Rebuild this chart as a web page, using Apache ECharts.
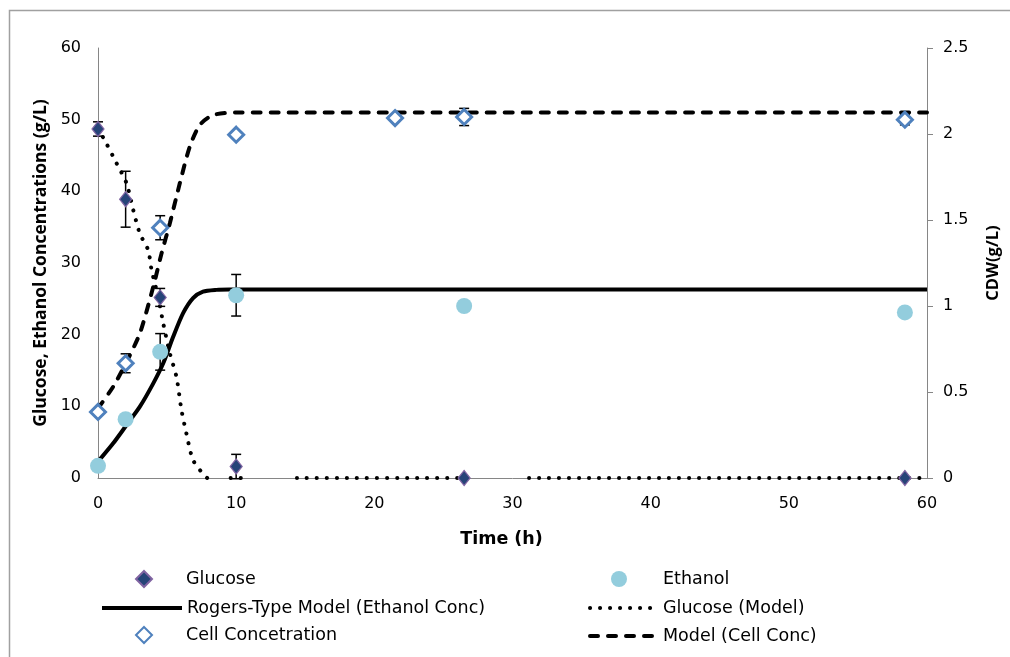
<!DOCTYPE html>
<html>
<head>
<meta charset="utf-8">
<script src="https://cdn.jsdelivr.net/npm/echarts@6/dist/echarts.min.js"></script>
<style>html,body{margin:0;padding:0;background:#fff}#c{width:1010px;height:657px}</style>
</head>
<body>
<div id="c"></div>
<script>
// ---- measured data ----
const timeGlu = [0, 2, 4.5, 10, 26.5, 58.4];
const glucose = [48.7, 38.9, 25.2, 1.6, 0, 0];
const glucoseErr = [1.0, 3.9, 1.25, 1.7, 0, 0];
const timeEth = [0, 2, 4.5, 10, 26.5, 58.4];
const ethanol = [1.7, 8.2, 17.6, 25.5, 24.0, 23.1];
const ethanolErr = [0, 0, 2.55, 2.9, 0, 0];
const timeCell = [0, 2, 4.5, 10, 21.5, 26.5, 58.4];
const cell = [0.384, 0.667, 1.455, 1.996, 2.093, 2.099, 2.083];
const cellErr = [0, 0.055, 0.07, 0, 0, 0.05, 0.03];

const ethModelT = [0, 1.1, 2.07, 3.03, 4.0, 4.72, 5.44, 6.16, 6.88, 7.6, 8.57, 9.5, 60];
const ethModel  = [2.28, 4.84, 7.4, 9.95, 13.2, 16.0, 19.7, 23.0, 25.1, 26.0, 26.25, 26.3, 26.3];

const cellModelT = [0, 1.1, 2.07, 3.03, 4.0, 4.6, 5.2, 5.92, 6.64, 7.36, 8.33, 10, 60];
const cellModel  = [0.405, 0.531, 0.676, 0.841, 1.112, 1.306, 1.481, 1.713, 1.926, 2.052, 2.11, 2.125, 2.125];

const gluModelT = [0, 0.6, 1.35, 2.07, 2.55, 3.03, 3.63, 3.88, 4.35, 4.72, 5.2, 5.68, 6.04, 6.4, 6.88, 7.72, 7.9, 8.7, 9.6, 10.4, 12.4, 14.4, 26.6, 28.9, 31.2, 60];
const gluModel  = [48.8, 46.7, 43.9, 41.1, 37.4, 34.1, 31.8, 29.0, 25.3, 21.6, 17.4, 14.1, 9.5, 6.2, 2.5, 0.3, 0, null, 0, 0, null, 0, 0, null, 0, 0];

const xTicks = [0, 10, 20, 30, 40, 50, 60];
const leftTicks = [0, 10, 20, 30, 40, 50, 60];
const rightTicks = [0, 0.5, 1, 1.5, 2, 2.5];

// ---- helpers ----
const pairs = (xs, ys) => xs.map((x, i) => [x, ys[i] === null ? '-' : ys[i]]);
const errData = (xs, ys, es) => xs.map((x, i) => [x, ys[i] - es[i], ys[i] + es[i], es[i]]).filter(d => d[3] > 0);
function errRender(params, api) {
  const x = api.value(0), lo = api.value(1), hi = api.value(2);
  const p1 = api.coord([x, lo]), p2 = api.coord([x, hi]);
  const c = 5, st = {stroke: '#000', lineWidth: 1.5};
  return {type: 'group', children: [
    {type: 'line', shape: {x1: p1[0], y1: p1[1], x2: p2[0], y2: p2[1]}, style: st},
    {type: 'line', shape: {x1: p1[0] - c, y1: p1[1], x2: p1[0] + c, y2: p1[1]}, style: st},
    {type: 'line', shape: {x1: p2[0] - c, y1: p2[1], x2: p2[0] + c, y2: p2[1]}, style: st}
  ]};
}

const FONT = 'DejaVu Sans';
const LEGFS = 17.5;
const axisGray = '#868686';
function legMarker(name, cx, cy, textStart, size) {
  return {data: [name], left: cx - size / 2, top: cy - size / 2, itemWidth: size, itemHeight: size,
          padding: 0, selectedMode: false,
          textStyle: {fontFamily: FONT, fontSize: LEGFS, color: '#000',
                      padding: [0, 0, 0, textStart - (cx + size / 2) - 5]}};
}
function legLine(name, left, cy, w, dash) {
  return {data: [name], left: left, top: cy - 7, itemWidth: w, itemHeight: 14, padding: 0, selectedMode: false,
          itemStyle: {opacity: 0},
          lineStyle: {width: 4, color: '#000', type: dash, cap: dash === 'solid' ? 'butt' : 'round'},
          textStyle: {fontFamily: FONT, fontSize: LEGFS, color: '#000'}};
}

const chart = echarts.init(document.getElementById('c'), null, {renderer: 'canvas'});
chart.setOption({
  animation: false,
  backgroundColor: '#fff',
  graphic: [{type: 'rect', shape: {x: 9.5, y: 10.5, width: 1100, height: 800},
             style: {fill: 'none', stroke: '#a0a0a0', lineWidth: 1.5}, z: -1}],
  grid: {left: 98, right: 81, top: 48, bottom: 179, containLabel: false},
  legend: [
    legMarker('Glucose', 143, 578, 185, 16),
    legMarker('Ethanol', 619, 578, 663, 16),
    legLine('Rogers-Type Model (Ethanol Conc)', 100, 606, 80, 'solid'),
    legLine('Glucose (Model)', 588, 606, 68, [0.1, 9.9]),
    legMarker('Cell Concetration', 143, 634, 185, 16),
    legLine('Model (Cell Conc)', 588, 634, 68, [8, 10])
  ],
  xAxis: {
    type: 'value', min: 0, max: 60, interval: 10,
    name: 'Time (h)', nameLocation: 'middle', nameGap: 52,
    nameTextStyle: {fontFamily: FONT, fontSize: 17.5, fontWeight: 'bold', color: '#000', padding: [0, 22, 0, 0]},
    axisLine: {lineStyle: {color: axisGray, width: 1}},
    axisTick: {show: false}, splitLine: {show: false},
    axisLabel: {fontFamily: FONT, fontSize: 16, color: '#000', margin: 18, customValues: xTicks}
  },
  yAxis: [{
    type: 'value', min: 0, max: 60, interval: 10, position: 'left',
    name: 'Glucose, Ethanol Concentrations (g/L)', nameLocation: 'middle', nameGap: 48, nameRotate: 90,
    nameTextStyle: {fontFamily: 'Open Sans', fontSize: 17.5, fontWeight: 'bold', color: '#000'},
    axisLine: {show: true, lineStyle: {color: axisGray, width: 1}},
    axisTick: {show: false}, splitLine: {show: false},
    axisLabel: {fontFamily: FONT, fontSize: 16, color: '#000', margin: 17, customValues: leftTicks}
  }, {
    type: 'value', min: 0, max: 2.5, interval: 0.5, position: 'right',
    name: 'CDW(g/L)', nameLocation: 'middle', nameGap: 58, nameRotate: 90,
    nameTextStyle: {fontFamily: 'Open Sans', fontSize: 16.5, fontWeight: 'bold', color: '#000'},
    axisLine: {show: true, lineStyle: {color: axisGray, width: 1}},
    axisTick: {show: true, inside: false, length: 6, lineStyle: {color: axisGray}},
    splitLine: {show: false},
    axisLabel: {fontFamily: FONT, fontSize: 16, color: '#000', margin: 16, customValues: rightTicks}
  }],
  series: [
    {name: 'Rogers-Type Model (Ethanol Conc)', type: 'line', yAxisIndex: 0, symbol: 'none',
     smooth: 0.25, data: pairs(ethModelT, ethModel),
     lineStyle: {color: '#000', width: 4}, itemStyle: {color: '#000'}, z: 2},
    {name: 'Glucose (Model)', type: 'line', yAxisIndex: 0, symbol: 'none', connectNulls: false,
     smooth: 0.25, data: pairs(gluModelT, gluModel),
     lineStyle: {color: '#000', width: 4, type: [0.1, 9.9], cap: 'round'}, itemStyle: {color: '#000'}, z: 2},
    {name: 'Model (Cell Conc)', type: 'line', yAxisIndex: 1, symbol: 'none',
     smooth: 0.25, data: pairs(cellModelT, cellModel),
     lineStyle: {color: '#000', width: 4, type: [8, 10], cap: 'round'}, itemStyle: {color: '#000'}, z: 2},
    {name: 'errGlu', type: 'custom', yAxisIndex: 0, renderItem: errRender,
     data: errData(timeGlu, glucose, glucoseErr), z: 3, silent: true},
    {name: 'errEth', type: 'custom', yAxisIndex: 0, renderItem: errRender,
     data: errData(timeEth, ethanol, ethanolErr), z: 3, silent: true},
    {name: 'errCell', type: 'custom', yAxisIndex: 1, renderItem: errRender,
     data: errData(timeCell, cell, cellErr), z: 3, silent: true},
    {name: 'Glucose', type: 'scatter', yAxisIndex: 0, symbol: 'diamond', symbolSize: [12, 15],
     data: pairs(timeGlu, glucose),
     itemStyle: {color: '#264478', borderColor: '#8064A2', borderWidth: 1.2, opacity: 1}, z: 5},
    {name: 'Ethanol', type: 'scatter', yAxisIndex: 0, symbol: 'circle', symbolSize: 16,
     data: pairs(timeEth, ethanol),
     itemStyle: {color: '#93CDDD', opacity: 1}, z: 5},
    {name: 'Cell Concetration', type: 'scatter', yAxisIndex: 1, symbol: 'diamond', symbolSize: 15,
     data: pairs(timeCell, cell),
     itemStyle: {color: '#fff', borderColor: '#4F81BD', borderWidth: 3, opacity: 1}, z: 5}
  ]
});
</script>
</body>
</html>
